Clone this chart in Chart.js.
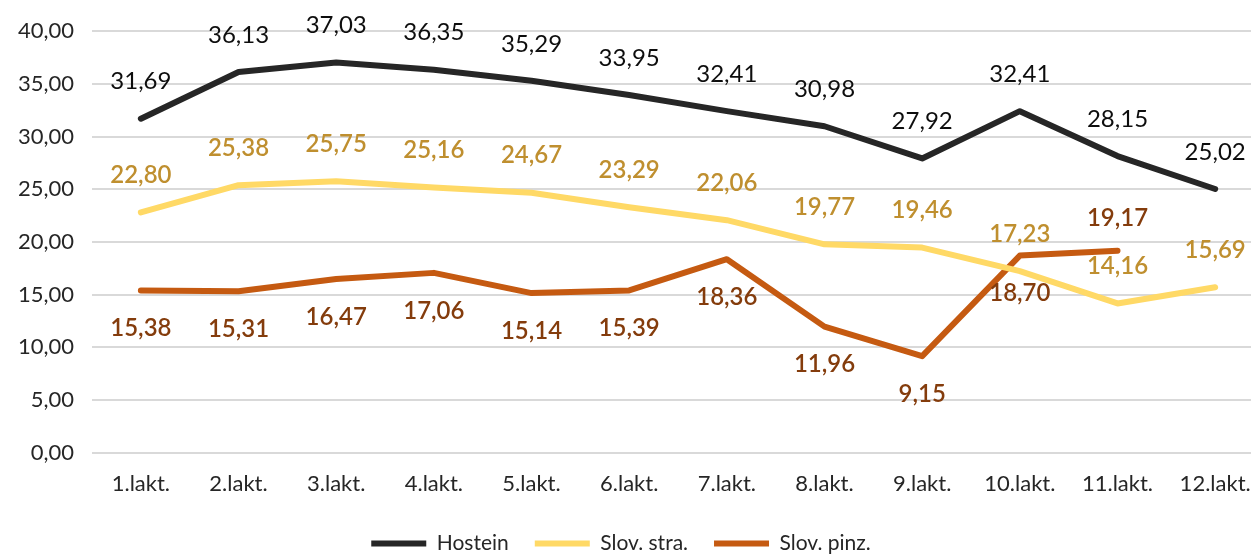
<!DOCTYPE html>
<html>
<head>
<meta charset="utf-8">
<script src="https://cdn.jsdelivr.net/npm/chart.js@4"></script>
<style>
  html, body { margin: 0; padding: 0; background: #fff; overflow: hidden; }
  #wrap { width: 1264px; height: 554px; }
</style>
</head>
<body>
<div id="wrap"><canvas id="lactChart" width="1264" height="554"></canvas></div>
<script>
var categories = ['1.lakt.', '2.lakt.', '3.lakt.', '4.lakt.', '5.lakt.', '6.lakt.',
                  '7.lakt.', '8.lakt.', '9.lakt.', '10.lakt.', '11.lakt.', '12.lakt.'];
var hostein = [31.69, 36.13, 37.03, 36.35, 35.29, 33.95, 32.41, 30.98, 27.92, 32.41, 28.15, 25.02];
var slovStra = [22.80, 25.38, 25.75, 25.16, 24.67, 23.29, 22.06, 19.77, 19.46, 17.23, 14.16, 15.69];
var slovPinz = [15.38, 15.31, 16.47, 17.06, 15.14, 15.39, 18.36, 11.96, 9.15, 18.70, 19.17, null];

function fmt(v) {
    return v.toFixed(2).replace('.', ',');
}

// draws the value labels next to each point
var valueLabels = {
    id: 'valueLabels',
    afterLayout: function(chart) {
        // legend sits a bit left of the centre in the original
        chart.legend.left -= 11;
        chart.legend.right -= 11;
    },
    afterDatasetsDraw: function(chart) {
        var ctx = chart.ctx;
        var cfg = [
            { color: '#0d0d0d', weight: 'normal', pos: function() { return -37; } },
            { color: '#bf8f2f', weight: '600', pos: function() { return -37; } },
            { color: '#843c0c', weight: '600', pos: function(i) { return i === 10 ? -32 : 38; } }
        ];
        chart.data.datasets.forEach(function(ds, d) {
            var meta = chart.getDatasetMeta(d);
            ctx.save();
            ctx.font = cfg[d].weight + ' 24px Lato';
            ctx.fillStyle = cfg[d].color;
            ctx.textAlign = 'center';
            ctx.textBaseline = 'middle';
            meta.data.forEach(function(pt, i) {
                var v = ds.data[i];
                if (v === null) return;
                ctx.fillText(fmt(v), pt.x, pt.y + cfg[d].pos(i));
            });
            ctx.restore();
        });
    }
};

var lactCtx = document.getElementById('lactChart').getContext('2d');

var lactChart = new Chart(lactCtx, {
    type: 'line',
    data: {
        labels: categories,
        datasets: [{
            label: 'Hostein',
            data: hostein,
            borderColor: '#262626',
            backgroundColor: '#262626',
            borderWidth: 6,
            pointRadius: 0,
            pointStyle: 'line',
            borderCapStyle: 'round',
            borderJoinStyle: 'round',
            tension: 0
        }, {
            label: 'Slov. stra.',
            data: slovStra,
            borderColor: '#ffd966',
            backgroundColor: '#ffd966',
            borderWidth: 6,
            pointRadius: 0,
            pointStyle: 'line',
            borderCapStyle: 'round',
            borderJoinStyle: 'round',
            tension: 0
        }, {
            label: 'Slov. pinz.',
            data: slovPinz,
            borderColor: '#c55a11',
            backgroundColor: '#c55a11',
            borderWidth: 6,
            pointRadius: 0,
            pointStyle: 'line',
            borderCapStyle: 'round',
            borderJoinStyle: 'round',
            tension: 0
        }]
    },
    options: {
        responsive: false,
        animation: false,
        layout: {
            padding: { top: 17, left: 0, right: 0, bottom: -10 }
        },
        plugins: {
            legend: {
                position: 'bottom',
                labels: {
                    usePointStyle: true,
                    pointStyleWidth: 55,
                    boxHeight: 6,
                    padding: 26,
                    color: '#262626',
                    font: { family: 'Lato', size: 21 }
                }
            },
            tooltip: { enabled: false }
        },
        scales: {
            x: {
                offset: true,
                grid: { display: false },
                border: { display: false },
                ticks: {
                    color: '#262626',
                    padding: 10,
                    font: { family: 'Lato', size: 22 }
                }
            },
            y: {
                min: 0,
                max: 40,
                grid: { color: '#d9d9d9', lineWidth: 2, drawTicks: false },
                border: { display: false },
                ticks: {
                    stepSize: 5,
                    color: '#262626',
                    padding: 18,
                    font: { family: 'Lato', size: 22 },
                    callback: function(v) { return fmt(v); }
                }
            }
        }
    },
    plugins: [valueLabels]
});
</script>
</body>
</html>
